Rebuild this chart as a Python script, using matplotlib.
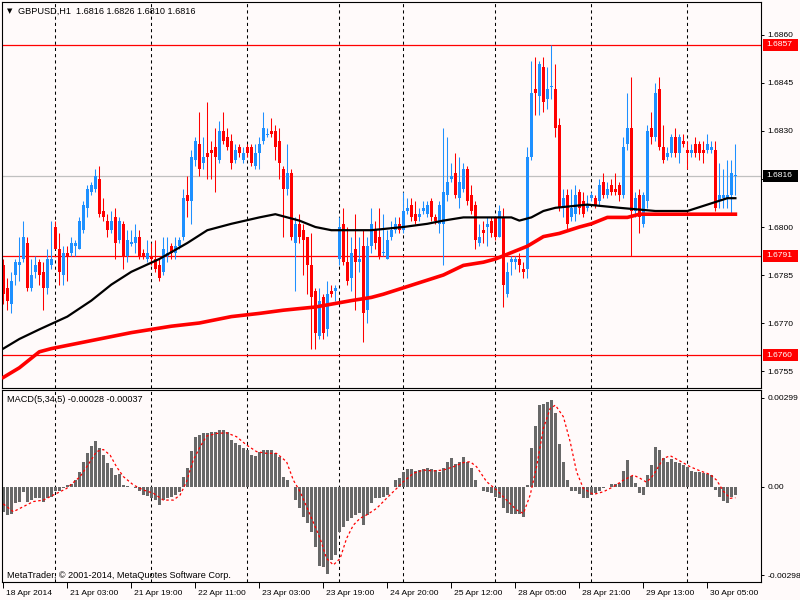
import numpy as np
import matplotlib
matplotlib.use("Agg")
import matplotlib.pyplot as plt
from matplotlib import transforms
from matplotlib.patches import Rectangle

# ---- colours ----
BG = "#fffafa"
BULL = "#1e90ff"
BEAR = "#ff0000"
HIST = "#686868"

# ---- data: GBPUSD H1, bar by bar ----
opens = [
    1.6788, 1.6781, 1.6776, 1.6785, 1.6788, 1.6790, 1.6795, 1.6781, 1.6786, 1.6789,
    1.6786, 1.6781, 1.6788, 1.6800, 1.6793, 1.6785, 1.6792, 1.6792, 1.6794, 1.6793,
    1.6799, 1.6806, 1.6811, 1.6812, 1.6815, 1.6805, 1.6802, 1.6799, 1.6803, 1.6796,
    1.6801, 1.6791, 1.6795, 1.6795, 1.6797, 1.6792, 1.6790, 1.6791, 1.6790, 1.6788,
    1.6786, 1.6791, 1.6794, 1.6792, 1.6794, 1.6797, 1.6810, 1.6808, 1.6821, 1.6826,
    1.6820, 1.6823, 1.6824, 1.6825, 1.6821, 1.6830, 1.6828, 1.6827, 1.6821, 1.6825,
    1.6821, 1.6825, 1.6825, 1.6819, 1.6823, 1.6827, 1.6829, 1.6830, 1.6830, 1.6827,
    1.6818, 1.6812, 1.6817, 1.6795, 1.6801, 1.6799, 1.6797, 1.6788, 1.6780, 1.6766,
    1.6778, 1.6768, 1.6780, 1.6780, 1.6790, 1.6801, 1.6789, 1.6784, 1.6793, 1.6789,
    1.6794, 1.6774, 1.6794, 1.6799, 1.6797, 1.6792, 1.6790, 1.6797, 1.6799, 1.6801,
    1.6799, 1.6805, 1.6807, 1.6804, 1.6803, 1.6805, 1.6804, 1.6808, 1.6803, 1.6801,
    1.6801, 1.6810, 1.6815, 1.6817, 1.6809, 1.6812, 1.6818, 1.6810, 1.6807, 1.6795,
    1.6799, 1.6800, 1.6802, 1.6803, 1.6797, 1.6803, 1.6779, 1.6789, 1.6789, 1.6790,
    1.6787, 1.6787, 1.6822, 1.6843, 1.6841, 1.6850, 1.6840, 1.6844, 1.6843, 1.6832,
    1.6806, 1.6810, 1.6803, 1.6804, 1.6811, 1.6808, 1.6806, 1.6809, 1.6809, 1.6808,
    1.6814, 1.6810, 1.6813, 1.6812, 1.6813, 1.6810, 1.6826, 1.6831, 1.6805, 1.6810,
    1.6801, 1.6808, 1.6831, 1.6828, 1.6843, 1.6825, 1.6822, 1.6823, 1.6828, 1.6823,
    1.6827, 1.6824, 1.6823, 1.6826, 1.6826, 1.6824, 1.6824, 1.6824, 1.6824, 1.6808,
    1.6809, 1.6809, 1.6810, 1.6816,
]
highs = [
    1.6790, 1.6784, 1.6786, 1.6790, 1.6797, 1.6802, 1.6797, 1.6790, 1.6791, 1.6790,
    1.6789, 1.6793, 1.6802, 1.6802, 1.6798, 1.6794, 1.6794, 1.6797, 1.6796, 1.6803,
    1.6808, 1.6813, 1.6814, 1.6818, 1.6819, 1.6809, 1.6804, 1.6805, 1.6806, 1.6803,
    1.6802, 1.6799, 1.6799, 1.6801, 1.6799, 1.6793, 1.6796, 1.6795, 1.6796, 1.6790,
    1.6797, 1.6797, 1.6795, 1.6797, 1.6797, 1.6812, 1.6816, 1.6824, 1.6828, 1.6836,
    1.6828, 1.6839, 1.6827, 1.6831, 1.6833, 1.6836, 1.6831, 1.6829, 1.6826, 1.6826,
    1.6825, 1.6826, 1.6826, 1.6826, 1.6828, 1.6836, 1.6831, 1.6834, 1.6832, 1.6831,
    1.6819, 1.6826, 1.6818, 1.6803, 1.6804, 1.6801, 1.6797, 1.6798, 1.6781, 1.6781,
    1.6779, 1.6783, 1.6782, 1.6782, 1.6803, 1.6806, 1.6800, 1.6797, 1.6804, 1.6797,
    1.6799, 1.6797, 1.6806, 1.6802, 1.6806, 1.6804, 1.6799, 1.6802, 1.6803, 1.6803,
    1.6811, 1.6809, 1.6809, 1.6808, 1.6806, 1.6808, 1.6808, 1.6809, 1.6804, 1.6808,
    1.6831, 1.6828, 1.6820, 1.6823, 1.6822, 1.6820, 1.6819, 1.6813, 1.6808, 1.6801,
    1.6802, 1.6803, 1.6803, 1.6803, 1.6807, 1.6806, 1.6789, 1.6791, 1.6791, 1.6792,
    1.6789, 1.6825, 1.6852, 1.6853, 1.6852, 1.6853, 1.6850, 1.6857, 1.6851, 1.6834,
    1.6812, 1.6812, 1.6812, 1.6813, 1.6812, 1.6811, 1.6810, 1.6811, 1.6810, 1.6815,
    1.6817, 1.6814, 1.6815, 1.6817, 1.6814, 1.6828, 1.6842, 1.6847, 1.6811, 1.6812,
    1.6811, 1.6832, 1.6836, 1.6845, 1.6847, 1.6832, 1.6825, 1.6829, 1.6831, 1.6829,
    1.6829, 1.6827, 1.6826, 1.6828, 1.6827, 1.6827, 1.6829, 1.6827, 1.6827, 1.6820,
    1.6818, 1.6821, 1.6821, 1.6826,
]
lows = [
    1.6776, 1.6774, 1.6773, 1.6782, 1.6783, 1.6789, 1.6780, 1.6780, 1.6784, 1.6782,
    1.6774, 1.6779, 1.6787, 1.6793, 1.6782, 1.6782, 1.6783, 1.6791, 1.6791, 1.6793,
    1.6798, 1.6803, 1.6810, 1.6811, 1.6803, 1.6802, 1.6797, 1.6798, 1.6790, 1.6795,
    1.6787, 1.6789, 1.6794, 1.6792, 1.6790, 1.6790, 1.6789, 1.6788, 1.6786, 1.6783,
    1.6785, 1.6789, 1.6790, 1.6790, 1.6793, 1.6796, 1.6803, 1.6801, 1.6819, 1.6816,
    1.6818, 1.6815, 1.6815, 1.6811, 1.6820, 1.6826, 1.6824, 1.6818, 1.6820, 1.6822,
    1.6820, 1.6822, 1.6819, 1.6818, 1.6818, 1.6826, 1.6828, 1.6828, 1.6821, 1.6815,
    1.6797, 1.6810, 1.6796, 1.6780, 1.6795, 1.6785, 1.6779, 1.6762, 1.6762, 1.6765,
    1.6765, 1.6766, 1.6778, 1.6777, 1.6788, 1.6788, 1.6782, 1.6780, 1.6774, 1.6786,
    1.6764, 1.6770, 1.6792, 1.6793, 1.6790, 1.6791, 1.6790, 1.6796, 1.6798, 1.6798,
    1.6798, 1.6804, 1.6802, 1.6801, 1.6802, 1.6804, 1.6803, 1.6802, 1.6801, 1.6798,
    1.6788, 1.6808, 1.6814, 1.6809, 1.6806, 1.6811, 1.6807, 1.6804, 1.6793, 1.6794,
    1.6795, 1.6794, 1.6797, 1.6796, 1.6797, 1.6775, 1.6778, 1.6785, 1.6787, 1.6786,
    1.6784, 1.6784, 1.6821, 1.6835, 1.6835, 1.6836, 1.6837, 1.6840, 1.6828, 1.6805,
    1.6803, 1.6799, 1.6802, 1.6802, 1.6804, 1.6803, 1.6805, 1.6808, 1.6806, 1.6807,
    1.6809, 1.6809, 1.6810, 1.6810, 1.6808, 1.6809, 1.6824, 1.6791, 1.6803, 1.6798,
    1.6800, 1.6806, 1.6826, 1.6827, 1.6824, 1.6820, 1.6821, 1.6822, 1.6822, 1.6820,
    1.6825, 1.6818, 1.6822, 1.6822, 1.6821, 1.6820, 1.6823, 1.6823, 1.6805, 1.6806,
    1.6806, 1.6806, 1.6804, 1.6810,
]
closes = [
    1.6779, 1.6777, 1.6783, 1.6789, 1.6789, 1.6797, 1.6781, 1.6785, 1.6788, 1.6785,
    1.6781, 1.6790, 1.6790, 1.6793, 1.6786, 1.6792, 1.6791, 1.6795, 1.6795, 1.6802,
    1.6807, 1.6812, 1.6813, 1.6816, 1.6804, 1.6803, 1.6799, 1.6802, 1.6795, 1.6802,
    1.6791, 1.6796, 1.6795, 1.6797, 1.6791, 1.6791, 1.6792, 1.6790, 1.6787, 1.6784,
    1.6793, 1.6792, 1.6792, 1.6794, 1.6796, 1.6809, 1.6808, 1.6822, 1.6827, 1.6818,
    1.6822, 1.6822, 1.6823, 1.6822, 1.6830, 1.6827, 1.6825, 1.6820, 1.6824, 1.6823,
    1.6823, 1.6823, 1.6820, 1.6823, 1.6826, 1.6831, 1.6829, 1.6829, 1.6825, 1.6820,
    1.6812, 1.6817, 1.6797, 1.6801, 1.6797, 1.6796, 1.6788, 1.6778, 1.6767, 1.6777,
    1.6767, 1.6779, 1.6779, 1.6781, 1.6800, 1.6789, 1.6783, 1.6792, 1.6789, 1.6790,
    1.6773, 1.6794, 1.6801, 1.6795, 1.6791, 1.6792, 1.6796, 1.6799, 1.6801, 1.6799,
    1.6805, 1.6806, 1.6803, 1.6802, 1.6804, 1.6806, 1.6807, 1.6803, 1.6802, 1.6807,
    1.6811, 1.6814, 1.6816, 1.6810, 1.6814, 1.6818, 1.6808, 1.6805, 1.6796, 1.6797,
    1.6798, 1.6801, 1.6798, 1.6797, 1.6805, 1.6782, 1.6786, 1.6790, 1.6790, 1.6788,
    1.6786, 1.6822, 1.6842, 1.6842, 1.6851, 1.6839, 1.6843, 1.6844, 1.6831, 1.6806,
    1.6809, 1.6801, 1.6806, 1.6810, 1.6806, 1.6804, 1.6807, 1.6810, 1.6807, 1.6813,
    1.6810, 1.6812, 1.6811, 1.6811, 1.6810, 1.6825, 1.6831, 1.6805, 1.6809, 1.6803,
    1.6810, 1.6830, 1.6828, 1.6842, 1.6825, 1.6821, 1.6823, 1.6828, 1.6823, 1.6828,
    1.6826, 1.6823, 1.6824, 1.6823, 1.6823, 1.6823, 1.6826, 1.6825, 1.6806, 1.6810,
    1.6810, 1.6810, 1.6817, 1.6816,
]

# moving averages (bar index, price)
black_ma_bar = [0, 4, 9, 16, 22, 27, 32, 39, 46, 51, 57, 64, 68, 74, 78, 82, 92, 100,
                106, 110, 115, 120, 127, 129, 132, 135, 138, 146, 154, 163, 171, 176, 181, 183]
black_ma_val = [1.6762, 1.6765, 1.6768, 1.6772, 1.6777, 1.6782, 1.6786, 1.6790, 1.6795,
                1.6799, 1.6801, 1.6803, 1.6804, 1.6802, 1.6800, 1.6799, 1.6799, 1.6800,
                1.6801, 1.6802, 1.6803, 1.6803, 1.6803, 1.6802, 1.6803, 1.6805, 1.6806,
                1.6807, 1.6806, 1.6805, 1.6805, 1.6807, 1.6809, 1.6809]
red_ma_bar = [0, 4, 7, 9, 12, 16, 24, 32, 37, 42, 49, 57, 64, 70, 78, 87, 92, 95, 100,
              105, 110, 115, 120, 123, 127, 131, 135, 139, 144, 147, 151, 156, 159, 164, 171, 183]
red_ma_val = [1.6753, 1.6756, 1.6759, 1.6761, 1.6762, 1.6763, 1.6765, 1.6767, 1.6768,
              1.6769, 1.6770, 1.6772, 1.6773, 1.6774, 1.6775, 1.6777, 1.6778, 1.6779,
              1.6781, 1.6783, 1.6785, 1.6788, 1.6789, 1.6790, 1.6792, 1.6794, 1.6797,
              1.6798, 1.6800, 1.6801, 1.6803, 1.6803, 1.6804, 1.6804, 1.6804, 1.6804]

# horizontal levels
red_levels = [1.6857, 1.6791, 1.6760]
bid_price = 1.6816

# MACD(5,34,5) histogram, units of 1e-5
macd_e5 = [
    -84, -95, -93, -56, -50, -17, -50, -45, -39, -37, -50, -39, -34, -15, -15, -6, 6, 8, 22, 50,
    84, 112, 137, 153, 131, 106, 78, 62, 39, 41, 6, 2, -2, -6, -15, -28, -31, -37, -45, -62,
    -45, -39, -34, -28, -17, 34, 62, 120, 168, 174, 179, 179, 183, 185, 190, 190, 185, 157, 146, 140,
    131, 123, 106, 103, 118, 123, 123, 123, 112, 101, 34, 22, -1, -45, -71, -101, -123, -153, -202, -267,
    -269, -293, -246, -230, -151, -134, -115, -106, -95, -90, -129, -95, -56, -39, -39, -34, -28, -2, 22, 28,
    48, 59, 59, 53, 56, 59, 64, 59, 56, 48, 64, 82, 97, 75, 84, 99, 82, 64, 22, -2,
    -15, -19, -22, -34, -39, -73, -90, -92, -92, -93, -101, 6, 131, 205, 274, 278, 283, 291, 246, 142,
    82, 22, -15, -15, -26, -37, -37, -28, -22, -15, -6, -2, 9, 9, 12, 53, 90, 37, 11, -22,
    -28, 39, 73, 133, 122, 97, 84, 93, 84, 78, 73, 67, 53, 50, 48, 45, 41, 39, -11, -34,
    -48, -54, -36, -28,
]
signal_bar = [0, 2.5, 5, 7.5, 10, 12.5, 15.8, 19.2, 21.7, 23.3, 25, 26.7, 28.3, 30, 32.5, 35,
              37.5, 40, 42.5, 44.2, 45.8, 47.5, 49.2, 50.8, 53.3, 55.8, 58.3, 60.8, 63.3, 65.8,
              68.3, 70.8, 72.5, 74.2, 76.7, 79.2, 80.8, 82.5, 84.2, 85.8, 87.5, 89.2, 90.8, 93.3,
              95.8, 98.3, 100, 102.5, 105, 107.5, 110, 112.5, 115, 116.7, 118.3, 120.8, 123.3,
              125.8, 128.3, 130, 131.7, 133.3, 135, 136.7, 138, 140, 141.7, 143.3, 145, 147.5,
              150, 152.5, 155, 157.5, 159.2, 160.8, 162.5, 165, 166.7, 169.2, 171.7, 174.2,
              176.7, 178.3, 180, 181.7, 183]
signal_e5 = [-58, -84, -67, -50, -45, -28, -6, 34, 84, 118, 125, 106, 67, 34, 6, -11,
             -22, -45, -45, -28, 17, 90, 134, 170, 179, 181, 168, 140, 118, 112,
             112, 84, 22, -17, -95, -174, -241, -263, -241, -174, -129, -106, -95, -73,
             -39, -6, 17, 45, 56, 53, 56, 67, 81, 84, 67, 17, -11,
             -45, -78, -90, -28, 67, 196, 263, 274, 235, 151, 50, -6, -26,
             -17, 0, 22, 39, 28, 15, 39, 95, 104, 86, 67, 53,
             41, 22, -15, -39, -37]

grid_bars = [13, 37, 61, 84, 100, 123, 147, 171]
date_bars = [0, 16, 32, 48, 64, 80, 96, 112, 128, 144, 160, 176]
date_labels = ["18 Apr 2014", "21 Apr 03:00", "21 Apr 19:00", "22 Apr 11:00",
               "23 Apr 03:00", "23 Apr 19:00", "24 Apr 20:00", "25 Apr 12:00",
               "28 Apr 05:00", "28 Apr 21:00", "29 Apr 13:00", "30 Apr 05:00"]
price_ticks = [1.6860, 1.6845, 1.6830, 1.6815, 1.6800, 1.6785, 1.6770, 1.6755]
price_tick_labels = ["1.6860", "1.6845", "1.6830", "", "1.6800", "1.6785", "1.6770", "1.6755"]
macd_ticks = [0.00299, 0.0, -0.00298]
macd_tick_labels = ["0.00299", "0.00", "-0.00298"]

# ---- figure ----
FS = 6.1
plt.rcParams.update({"font.family": ["Liberation Sans", "DejaVu Sans"], "font.size": FS})
W, H = 800, 600
fig = plt.figure(figsize=(8, 6), dpi=100, facecolor=BG)


def px_axes(x0, y0, x1, y1):
    return fig.add_axes([x0 / W, 1 - y1 / H, (x1 - x0) / W, (y1 - y0) / H])


ax = px_axes(2, 2, 761, 388)
axm = px_axes(2, 390, 761, 582)
XMIN, XMAX = -0.33, 189.4

for a in (ax, axm):
    a.set_facecolor(BG)
    a.set_xlim(XMIN, XMAX)
    for s in a.spines.values():
        s.set_color("black")
        s.set_linewidth(0.8)
    for g in grid_bars:
        a.axvline(g, color="black", lw=0.75, ls=(0, (3, 3)), zorder=1)
    a.yaxis.tick_right()
    a.tick_params(axis="y", direction="out", length=2.5, width=0.7, pad=2,
                  labelsize=FS, colors="black")

# ---- price panel ----
o = np.array(opens); hi = np.array(highs); lo = np.array(lows); c = np.array(closes)
idx = np.arange(len(o))
up = c >= o
cols = np.where(up, BULL, BEAR)

ax.axhline(bid_price, color="#c0c0c0", lw=0.9, zorder=1)
for lv in red_levels:
    ax.axhline(lv, color="red", lw=0.9, zorder=1.5)

ax.vlines(idx, lo, hi, colors=cols, lw=0.75, zorder=2)
min_h = 0.000035
body_h = np.maximum(np.abs(c - o), min_h)
mid = (o + c) / 2
ax.bar(idx, body_h, bottom=mid - body_h / 2, width=0.75, color=cols, lw=0, zorder=2.2)

ax.plot(black_ma_bar, black_ma_val, color="black", lw=1.6, zorder=3)
ax.plot(red_ma_bar, red_ma_val, color="red", lw=2.6, zorder=3)

ax.set_ylim(1.674969, 1.687031)
ax.set_yticks(price_ticks)
ax.set_yticklabels(price_tick_labels)
ax.tick_params(axis="x", bottom=False, labelbottom=False)

# price tags on the right scale: a fixed-size box (in pixels) behind the text
ytr = transforms.blended_transform_factory(ax.transAxes, ax.transData)
box_off = transforms.ScaledTranslation(2 / 100, -6 / 100, fig.dpi_scale_trans)
txt_off = transforms.ScaledTranslation(5 / 100, 0, fig.dpi_scale_trans)
tags = [(lv, "red") for lv in red_levels] + [(bid_price, "black")]
for lv, fc in tags:
    rect = Rectangle((1.0, lv), 35 / 759, 0, transform=ytr + box_off, fc=fc, ec="none",
                     clip_on=False, zorder=4)
    rect.set_height(0)
    ax.add_patch(rect)
    # height in data units equal to 12 px
    yr = ax.get_ylim()
    rect.set_height(12 / 386 * (yr[1] - yr[0]))
    ax.text(1.0, lv, f"{lv:.4f}", transform=ytr + txt_off, ha="left", va="center",
            color="white", fontsize=FS, clip_on=False, zorder=5)

# ---- MACD panel ----
macd = np.array(macd_e5) * 1e-5
signal = np.array(signal_e5) * 1e-5
axm.bar(idx, macd, width=0.7, color=HIST, lw=0, zorder=2)
axm.plot(signal_bar, signal, color="red", lw=0.9, ls=(0, (2, 2)), zorder=3)
axm.set_ylim(-0.003202, 0.003249)
axm.set_yticks(macd_ticks)
axm.set_yticklabels(macd_tick_labels)
axm.set_xticks(date_bars)
axm.set_xticklabels(date_labels)
axm.tick_params(axis="x", direction="out", length=4, width=0.7, pad=2, labelsize=FS)
lab_off = transforms.ScaledTranslation(3 / 100, 0, fig.dpi_scale_trans)
for lab in axm.get_xticklabels():
    lab.set_horizontalalignment("left")
    lab.set_transform(lab.get_transform() + lab_off)

# ---- texts ----
fig.text(10 / W, 1 - 11 / H, "\u25bc", fontsize=5, ha="center", va="center",
         family="DejaVu Sans")
fig.text(18 / W, 1 - 11 / H, "GBPUSD,H1  1.6816 1.6826 1.6810 1.6816",
         fontsize=6.6, ha="left", va="center")
fig.text(7 / W, 1 - 400 / H, "MACD(5,34,5) -0.00028 -0.00037",
         fontsize=6.6, ha="left", va="center")
fig.text(7 / W, 1 - 575 / H, "MetaTrader, \u00a9 2001-2014, MetaQuotes Software Corp.",
         fontsize=6.6, ha="left", va="center")

fig.savefig("out.png", dpi=100, facecolor=BG)
